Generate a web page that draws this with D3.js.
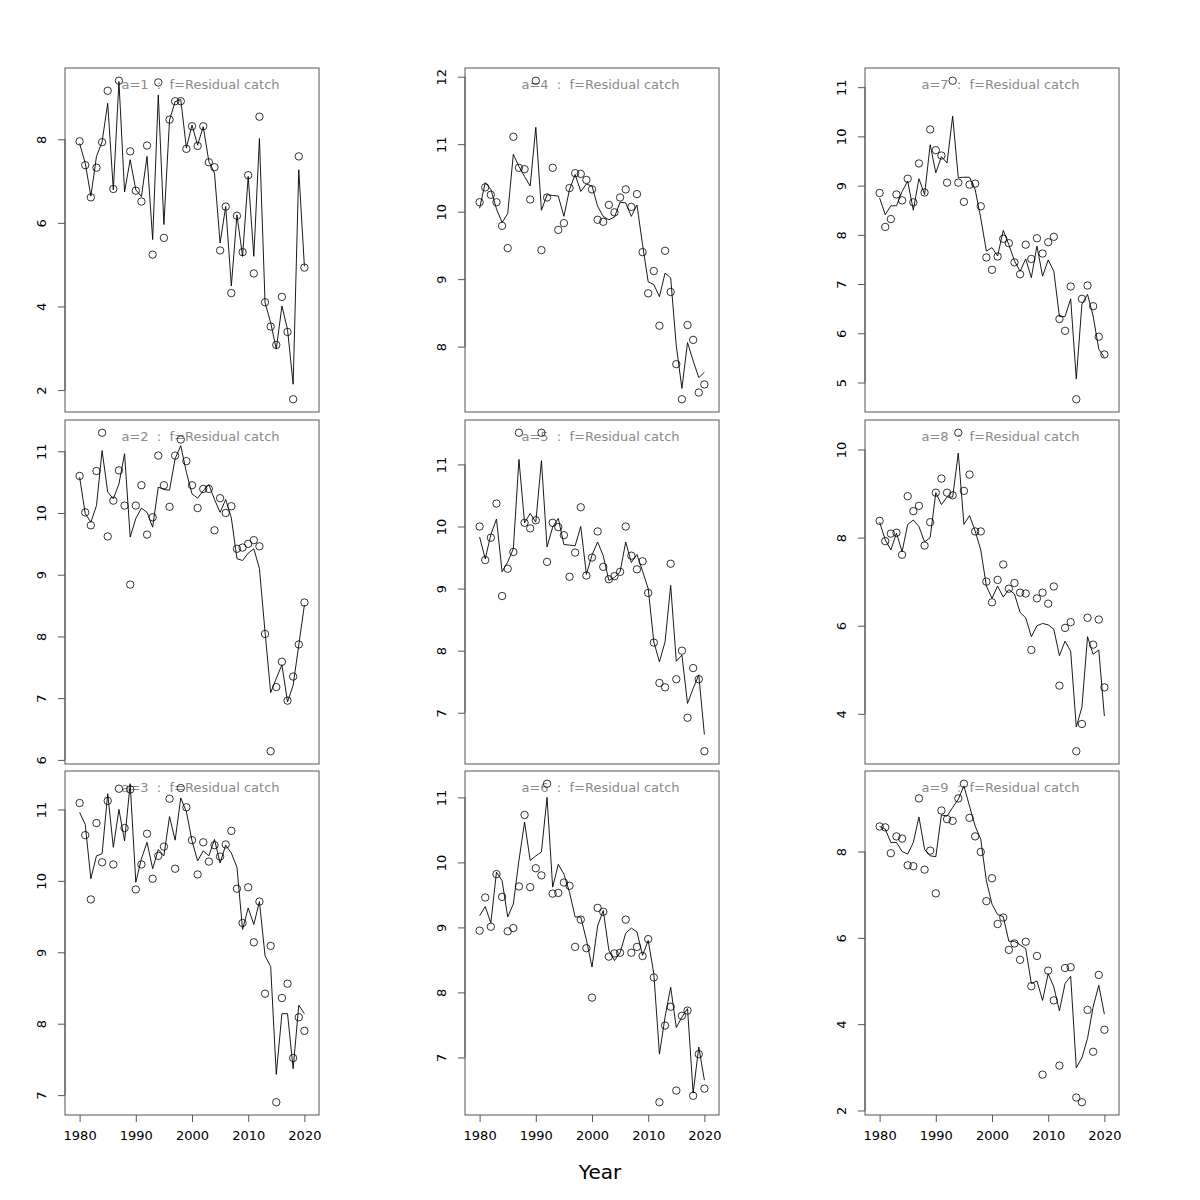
<!DOCTYPE html>
<html>
<head>
<meta charset="utf-8">
<script src="https://cdn.jsdelivr.net/npm/d3@7"></script>
<style>
  html, body { margin: 0; padding: 0; background: #fff; }
  svg { display: block; }
  text { font-family: "DejaVu Sans", sans-serif; }
</style>
</head>
<body>
<svg id="chart" width="1200" height="1200"></svg>
<script>
const years = [1980,1981,1982,1983,1984,1985,1986,1987,1988,1989,1990,1991,1992,1993,1994,1995,1996,1997,1998,1999,2000,2001,2002,2003,2004,2005,2006,2007,2008,2009,2010,2011,2012,2013,2014,2015,2016,2017,2018,2019,2020];
const xTicks = [1980, 1990, 2000, 2010, 2020];
const ageLabels = ["1","2","3","4","5","6","7","8","9"];
const fleetLabel = "Residual catch";
const xLabel = "Year";

// observed (circles)
const obs1 = [7.95,7.38,6.61,7.32,7.93,9.16,6.81,9.40,null,7.71,6.77,6.51,7.85,5.24,9.36,5.64,8.47,8.91,8.91,7.77,8.31,7.84,8.31,7.45,7.33,5.34,6.39,4.32,6.17,5.30,7.14,4.79,8.54,4.10,3.52,3.08,4.23,3.39,1.78,7.59,4.93];
const obs2 = [10.60,10.01,9.80,10.68,11.30,9.62,10.20,10.69,10.12,8.84,10.12,10.45,9.65,9.93,10.93,10.45,10.10,10.93,11.19,10.84,10.45,10.08,10.39,10.39,9.72,10.24,10.00,10.11,9.42,9.44,9.50,9.56,9.46,8.04,6.14,7.18,7.59,6.96,7.35,7.87,8.55];
const obs3 = [11.09,10.64,9.74,10.81,10.26,11.12,10.23,11.29,10.74,11.28,9.88,10.23,10.66,10.03,10.35,10.48,11.15,10.17,11.30,11.03,10.57,10.09,10.54,10.27,10.50,10.34,10.51,10.70,9.89,9.41,9.91,9.14,9.71,8.42,9.09,6.90,8.36,8.56,7.52,8.09,7.90];
const obs4 = [10.14,10.36,10.25,10.14,9.79,9.46,11.11,10.65,10.63,10.18,11.94,9.43,10.21,10.65,9.73,9.83,10.35,10.57,10.56,10.47,10.33,9.88,9.85,10.10,9.99,10.21,10.33,10.07,10.26,9.40,8.79,9.12,8.31,9.42,8.81,7.74,7.22,8.32,8.10,7.32,7.44];
const obs5 = [10.00,9.46,9.82,10.37,8.88,9.32,9.59,11.51,10.06,9.97,10.10,11.51,9.43,10.06,9.99,9.86,9.19,9.58,10.31,9.21,9.50,9.92,9.35,9.15,9.20,9.27,10.00,9.53,9.31,9.44,8.93,8.13,7.48,7.41,9.40,7.54,8.00,6.92,7.72,7.54,6.38];
const obs6 = [8.95,9.46,9.01,9.82,9.47,8.94,8.99,9.63,10.73,9.62,9.91,9.80,11.21,9.52,9.53,9.69,9.64,8.70,9.12,8.68,7.92,9.30,9.24,8.55,8.60,8.61,9.12,8.61,8.70,8.56,8.82,8.23,6.31,7.49,7.78,6.49,7.64,7.72,6.41,7.05,6.52];
const obs7 = [8.85,8.16,8.32,8.82,8.70,9.14,8.66,9.45,8.86,10.14,9.72,9.61,9.06,11.13,9.06,8.67,9.02,9.04,8.58,7.54,7.29,7.56,7.92,7.83,7.44,7.20,7.80,7.51,7.93,7.62,7.85,7.96,6.29,6.05,6.95,4.66,6.70,6.97,6.55,5.93,5.57];
const obs8 = [8.38,7.92,8.09,8.11,7.61,8.94,8.60,8.72,7.82,8.35,9.02,9.34,9.02,8.96,10.38,9.06,9.43,8.14,8.14,7.00,6.53,7.04,7.39,6.84,6.97,6.75,6.73,5.45,6.62,6.75,6.50,6.89,4.64,5.95,6.08,3.15,3.77,6.18,5.57,6.14,4.60];
const obs9 = [8.58,8.56,7.96,8.35,8.30,7.68,7.66,9.23,7.58,8.02,7.03,8.95,8.75,8.71,9.23,9.57,8.78,8.35,7.99,6.85,7.38,6.32,6.47,5.72,5.87,5.49,5.91,4.88,5.58,2.83,5.24,4.55,3.04,5.30,5.32,2.30,2.19,4.33,3.36,5.14,3.87];

// fitted (lines)
const fit1 = [7.90,7.43,6.64,7.59,7.94,8.86,6.79,9.38,6.74,7.51,6.79,6.63,7.59,5.60,9.06,5.96,8.46,8.90,8.95,7.79,8.34,7.86,8.30,7.47,7.19,5.52,6.39,4.49,6.19,5.20,7.11,5.20,8.02,4.09,3.61,2.98,4.01,3.45,2.14,7.27,4.96];
const fit2 = [10.58,9.99,9.85,10.12,11.01,10.34,10.23,10.47,10.96,9.61,9.91,10.08,10.01,9.77,10.42,10.38,10.37,10.88,11.09,10.66,10.31,10.24,10.36,10.46,10.22,10.01,10.22,9.92,9.26,9.23,9.35,9.42,9.10,8.07,7.09,7.32,7.54,6.94,7.21,7.86,8.51];
const fit3 = [10.96,10.79,10.03,10.35,10.38,11.22,10.47,11.00,10.56,11.36,9.98,10.31,10.54,10.17,10.44,10.35,10.90,10.57,11.16,10.97,10.56,10.28,10.42,10.35,10.58,10.25,10.50,10.39,10.19,9.32,9.62,9.39,9.71,8.95,8.80,7.29,8.14,8.14,7.37,8.26,8.14];
const fit4 = [10.05,10.43,10.33,10.04,9.84,9.97,10.85,10.67,10.52,10.38,11.25,10.02,10.25,10.24,10.23,9.93,10.33,10.55,10.30,10.41,10.38,10.08,9.93,9.88,9.92,10.14,10.13,9.93,10.10,9.51,8.96,8.92,8.74,9.09,9.02,8.01,7.38,8.06,7.79,7.54,7.62];
const fit5 = [9.83,9.48,9.87,10.12,9.27,9.43,9.64,11.08,10.06,10.21,10.07,11.06,9.67,9.99,10.13,9.71,9.70,9.69,10.00,9.23,9.54,9.75,9.53,9.13,9.18,9.27,9.75,9.42,9.55,9.28,9.00,8.14,7.82,8.14,9.05,7.83,7.93,7.15,7.39,7.61,6.65];
const fit6 = [9.18,9.32,9.07,9.85,9.72,9.16,9.36,10.03,10.62,10.03,10.10,10.16,11.00,9.62,9.97,9.82,9.54,9.16,9.16,8.81,8.39,9.02,9.26,8.65,8.49,8.61,8.91,8.99,8.93,8.57,8.80,8.29,7.05,7.62,8.08,7.46,7.62,7.75,6.45,7.16,6.65];
const fit7 = [8.75,8.41,8.59,8.59,8.88,9.09,8.50,9.14,8.82,9.83,9.26,9.59,9.46,10.41,9.16,9.17,9.17,8.92,8.34,7.67,7.74,7.57,8.09,7.80,7.47,7.26,7.51,7.13,7.77,7.16,7.49,7.26,6.34,6.34,6.70,5.07,6.59,6.79,6.35,5.68,5.51];
const fit8 = [8.35,7.95,7.72,8.10,7.68,8.30,8.40,8.25,7.90,8.00,9.02,8.75,8.92,8.92,9.92,8.30,8.50,8.15,7.72,6.90,6.62,6.90,6.65,6.82,6.72,6.30,6.18,5.75,6.00,6.05,6.02,5.92,5.32,5.65,5.42,3.70,4.15,5.75,5.35,5.45,3.95];
const fit9 = [8.58,8.52,8.21,8.21,8.00,7.94,8.21,8.80,8.05,7.90,7.88,8.85,8.82,9.02,9.21,9.52,9.05,8.59,8.28,7.32,6.78,6.54,6.49,5.92,5.92,5.84,5.75,4.94,5.00,4.55,5.17,4.86,4.31,4.94,5.11,2.99,3.22,3.67,4.40,4.90,4.23];

// y-axis tick labels per panel
const yTicks1 = [2,4,6,8];
const yTicks2 = [6,7,8,9,10,11];
const yTicks3 = [7,8,9,10,11];
const yTicks4 = [8,9,10,11,12];
const yTicks5 = [7,8,9,10,11];
const yTicks6 = [7,8,9,10,11];
const yTicks7 = [5,6,7,8,9,10,11];
const yTicks8 = [4,6,8,10];
const yTicks9 = [2,4,6,8];

const obsAll = [obs1,obs2,obs3,obs4,obs5,obs6,obs7,obs8,obs9];
const fitAll = [fit1,fit2,fit3,fit4,fit5,fit6,fit7,fit8,fit9];
const ticksAll = [yTicks1,yTicks2,yTicks3,yTicks4,yTicks5,yTicks6,yTicks7,yTicks8,yTicks9];

const svg = d3.select("#chart");
const colX = [65, 465, 865];
const rowY = [68, 420, 771];
const pw = 254, ph = 344;
const boxColor = "#555";

for (let i = 0; i < 9; i++) {
  const col = Math.floor(i / 3), row = i % 3;
  const x0 = colX[col], y0 = rowY[row];
  const obs = obsAll[i], fit = fitAll[i];
  const vals = obs.concat(fit).filter(v => v != null);
  const ext = d3.extent(vals);
  const pad = (ext[1] - ext[0]) * 0.04;
  const x = d3.scaleLinear().domain([1977.4, 2022.6]).range([x0, x0 + pw]);
  const y = d3.scaleLinear().domain([ext[0] - pad, ext[1] + pad]).range([y0 + ph, y0]);

  const g = svg.append("g");

  // y axis
  const yAxis = d3.axisLeft(y).tickValues(ticksAll[i]).tickSize(7).tickPadding(0).tickFormat(d3.format("d"));
  const ya = g.append("g").attr("transform", `translate(${x0},0)`).call(yAxis);
  ya.select(".domain").remove();
  ya.selectAll(".tick line").attr("stroke", boxColor);
  ya.selectAll(".tick text")
    .attr("x", null).attr("dy", null)
    .attr("transform", "translate(-19,0) rotate(-90)")
    .attr("text-anchor", "middle")
    .attr("fill", "#000")
    .style("font-size", "13px")
    .style("font-family", "DejaVu Sans, sans-serif");
  ya.append("line").attr("x1", 0).attr("x2", 0)
    .attr("y1", y(d3.min(ticksAll[i]))).attr("y2", y(d3.max(ticksAll[i])))
    .attr("stroke", boxColor);

  // x axis on bottom row
  if (row === 2) {
    const xAxis = d3.axisBottom(x).tickValues(xTicks).tickSize(7).tickPadding(9).tickFormat(d3.format("d"));
    const xa = g.append("g").attr("transform", `translate(0,${y0 + ph})`).call(xAxis);
    xa.select(".domain").remove();
    xa.selectAll(".tick line").attr("stroke", boxColor);
    xa.selectAll(".tick text").attr("fill", "#000")
      .style("font-size", "13px").style("font-family", "DejaVu Sans, sans-serif");
  }

  // box
  g.append("rect").attr("x", x0).attr("y", y0).attr("width", pw).attr("height", ph)
    .attr("fill", "none").attr("stroke", boxColor).attr("stroke-width", 1);

  // title
  g.append("text")
    .attr("x", x0 + pw / 2 + 8.5).attr("y", y0 + 21)
    .attr("text-anchor", "middle")
    .attr("fill", "#8a8a8a")
    .style("font-size", "13px")
    .style("white-space", "pre")
    .text(`a=${ageLabels[i]}  :  f=${fleetLabel}`);

  // fitted line
  const line = d3.line().x((d, k) => x(years[k])).y(d => y(d));
  g.append("path").datum(fit).attr("d", line)
    .attr("fill", "none").attr("stroke", "#000").attr("stroke-width", 0.9);

  // observed points
  g.selectAll("circle.obs")
    .data(obs.map((v, k) => ({yr: years[k], v})).filter(d => d.v != null))
    .enter().append("circle")
    .attr("cx", d => x(d.yr)).attr("cy", d => y(d.v)).attr("r", 3.7)
    .attr("fill", "none").attr("stroke", "#000").attr("stroke-width", 0.8);
}

svg.append("text").attr("x", 600).attr("y", 1179)
  .attr("text-anchor", "middle").style("font-size", "20px").attr("fill", "#000")
  .text(xLabel);
</script>
</body>
</html>
